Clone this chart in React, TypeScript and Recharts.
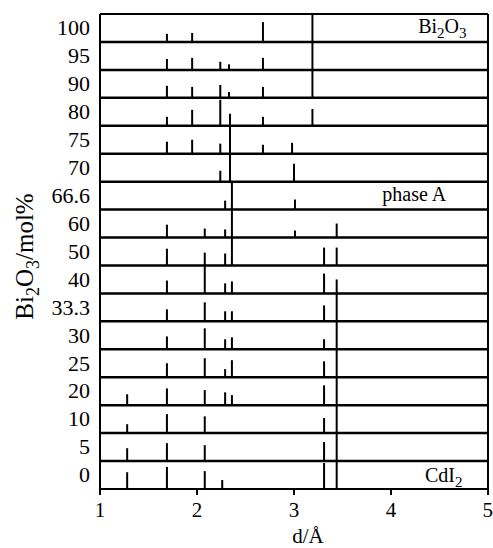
import React from 'react'
import {
  ComposedChart,
  XAxis,
  YAxis,
  Scatter,
  ReferenceLine,
  ReferenceDot,
  Label,
} from 'recharts'

// compositions, bottom row first
const rows = ['0', '5', '10', '20', '25', '30', '33.3', '40', '50', '60', '66.6', '70', '75', '80', '90', '95', '100']

// peaks per composition: [d in Å, stick height in row units]
const p0 = [[1.28, 0.6], [1.69, 0.79], [2.08, 0.64], [2.26, 0.32], [3.31, 0.93], [3.44, 1]]
const p5 = [[1.28, 0.46], [1.69, 0.64], [2.08, 0.57], [3.31, 0.68], [3.44, 1]]
const p10 = [[1.28, 0.32], [1.69, 0.68], [2.08, 0.6], [3.31, 0.54], [3.44, 1]]
const p20 = [[1.28, 0.39], [1.69, 0.6], [2.08, 0.54], [2.29, 0.46], [2.36, 0.36], [3.31, 0.71], [3.44, 1]]
const p25 = [[1.69, 0.5], [2.08, 0.68], [2.29, 0.29], [2.36, 0.61], [3.31, 0.57], [3.44, 1]]
const p30 = [[1.69, 0.46], [2.08, 0.75], [2.29, 0.36], [2.36, 0.43], [3.31, 0.36], [3.44, 1]]
const p33 = [[1.69, 0.43], [2.08, 0.68], [2.29, 0.36], [2.36, 0.36], [3.31, 0.57], [3.44, 1]]
const p40 = [[1.69, 0.46], [2.08, 1], [2.29, 0.36], [2.36, 0.43], [3.31, 0.71], [3.44, 0.5]]
const p50 = [[1.69, 0.6], [2.08, 0.46], [2.29, 0.43], [2.36, 1], [3.31, 0.64], [3.44, 0.64]]
const p60 = [[1.69, 0.46], [2.08, 0.32], [2.29, 0.29], [2.36, 1], [3.01, 0.25], [3.44, 0.5]]
const p66 = [[2.29, 0.32], [2.36, 1], [3.01, 0.36]]
const p70 = [[2.24, 0.39], [2.34, 2.43], [3.0, 0.64]]
const p75 = [[1.69, 0.43], [1.95, 0.5], [2.24, 0.36], [2.68, 0.32], [2.98, 0.39]]
const p80 = [[1.69, 0.32], [1.95, 0.57], [2.24, 0.93], [2.68, 0.32], [3.19, 0.6]]
const p90 = [[1.69, 0.43], [1.95, 0.39], [2.24, 0.46], [2.33, 0.21], [2.68, 0.39], [3.19, 1]]
const p95 = [[1.69, 0.39], [1.95, 0.43], [2.24, 0.29], [2.33, 0.2], [2.68, 0.43], [3.19, 1]]
const p100 = [[1.69, 0.29], [1.95, 0.32], [2.68, 0.71], [3.19, 0.97]]

const patterns = [p0, p5, p10, p20, p25, p30, p33, p40, p50, p60, p66, p70, p75, p80, p90, p95, p100]

const xTicks = [1, 2, 3, 4, 5]

const FONT = 'Liberation Serif, Times New Roman, serif'
const LABEL_OFFSET = 0.52

const sticks = patterns.flatMap((peaks, row) =>
  peaks.map(([d, h]) => ({ d, y0: row, y1: row + h }))
)

function Note({ viewBox, parts }: any) {
  if (!viewBox) return null
  return (
    <text x={viewBox.x} y={viewBox.y} fontFamily={FONT} fontSize={20} fill="#000">
      {parts.map((p: any, i: number) => (
        <tspan key={i} dy={p.dy} fontSize={p.sub ? 15 : 20}>
          {p.t}
        </tspan>
      ))}
    </text>
  )
}

function YTitle({ viewBox }: any) {
  if (!viewBox) return null
  const x = viewBox.x + 33
  const y = viewBox.y + viewBox.height / 2 + 5
  return (
    <text x={x} y={y} transform={`rotate(-90, ${x}, ${y})`} textAnchor="middle" fontFamily={FONT} fontSize={25} fill="#000">
      Bi
      <tspan fontSize={18} dy={6}>2</tspan>
      <tspan dy={-6}>O</tspan>
      <tspan fontSize={18} dy={6}>3</tspan>
      <tspan dy={-6}>/mol%</tspan>
    </text>
  )
}

function XTitle({ viewBox }: any) {
  if (!viewBox) return null
  return (
    <text x={viewBox.x + viewBox.width / 2 + 14} y={viewBox.y + 54} textAnchor="middle" fontFamily={FONT} fontSize={21} fill="#000">
      d/Å
    </text>
  )
}

export default function App() {
  return (
    <div style={{ position: 'absolute', left: 0, top: 0, background: '#fff' }}>
      <ComposedChart width={493} height={548} margin={{ top: 14, right: 5, bottom: 0, left: 0 }}>
        <XAxis
          type="number"
          dataKey="d"
          domain={[1, 5]}
          ticks={xTicks}
          allowDataOverflow
          height={59}
          stroke="#000"
          strokeWidth={2}
          tickSize={6}
          tickMargin={7}
          tick={{ fontSize: 21, fontFamily: FONT, fill: '#000' }}
          label={<Label content={<XTitle />} />}
        />
        <YAxis
          type="number"
          dataKey="y0"
          domain={[0, 17]}
          ticks={rows.map((_, i) => i + LABEL_OFFSET)}
          tickFormatter={(v: number) => rows[Math.round(v - LABEL_OFFSET)]}
          interval={0}
          allowDataOverflow
          width={100}
          stroke="#000"
          strokeWidth={2}
          tickLine={false}
          tickSize={0}
          tickMargin={10}
          tick={{ fontSize: 22, fontFamily: FONT, fill: '#000' }}
          label={<Label content={<YTitle />} />}
        />
        <Scatter data={sticks} dataKey="y0" shape={() => null} isAnimationActive={false} />
        {rows.map((_, i) =>
          i > 0 ? <ReferenceLine key={'b' + i} y={i} stroke="#000" strokeWidth={2.5} /> : null
        )}
        <ReferenceLine y={17} stroke="#000" strokeWidth={2} />
        <ReferenceLine x={5} stroke="#000" strokeWidth={2} />
        {sticks.map((s, i) => (
          <ReferenceLine
            key={'s' + i}
            segment={[{ x: s.d, y: s.y0 }, { x: s.d, y: s.y1 }]}
            stroke="#000"
            strokeWidth={2}
          />
        ))}
        <ReferenceDot x={4.28} y={16.32} r={0} fill="none" stroke="none"
          label={<Label content={<Note parts={[{ t: 'Bi' }, { t: '2', sub: true, dy: 5 }, { t: 'O', dy: -5 }, { t: '3', sub: true, dy: 5 }]} />} />}
        />
        <ReferenceDot x={3.91} y={10.31} r={0} fill="none" stroke="none"
          label={<Label content={<Note parts={[{ t: 'phase A' }]} />} />}
        />
        <ReferenceDot x={4.35} y={0.25} r={0} fill="none" stroke="none"
          label={<Label content={<Note parts={[{ t: 'CdI' }, { t: '2', sub: true, dy: 5 }]} />} />}
        />
      </ComposedChart>
    </div>
  )
}
